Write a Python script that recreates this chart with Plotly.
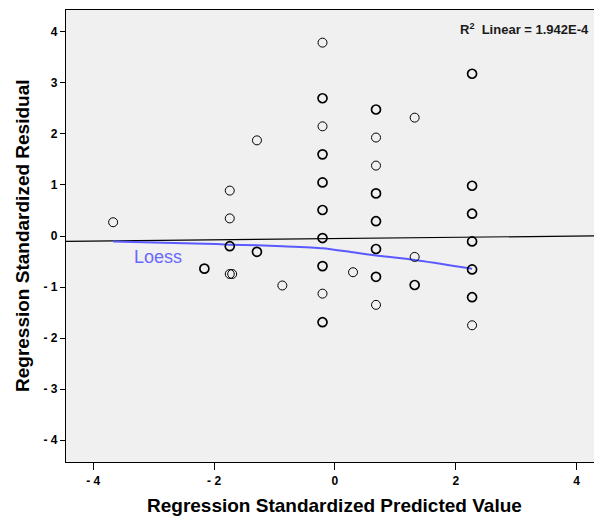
import plotly.graph_objects as go

# Scatter points (predicted value, residual, overlap count)
pred_x = [-3.67, -2.16,
          -1.74, -1.74, -1.74, -1.74, -1.70,
          -1.29, -1.29, -0.87,
          -0.205, -0.205, -0.205, -0.205, -0.205, -0.205, -0.205, -0.205, -0.205, -0.205,
          0.30,
          0.68, 0.68, 0.68, 0.68, 0.68, 0.68, 0.68, 0.68,
          1.32, 1.32, 1.32,
          2.27, 2.27, 2.27, 2.27, 2.27, 2.27, 2.27]
resid_y = [0.27, -0.64,
           0.89, 0.345, -0.20, -0.745, -0.745,
           1.875, -0.31, -0.97,
           3.79, 2.70, 2.15, 1.60, 1.05, 0.51, -0.04, -0.59, -1.13, -1.69,
           -0.71,
           2.48, 1.93, 1.38, 0.835, 0.29, -0.255, -0.80, -1.35,
           2.32, -0.41, -0.96,
           3.18, 0.985, 0.437, -0.106, -0.655, -1.20, -1.75]
counts = [1, 2,
          1, 1, 2, 1, 1,
          1, 2, 1,
          1, 2, 1, 2, 2, 2, 3, 2, 1, 2,
          1,
          2, 1, 1, 2, 2, 2, 2, 1,
          1, 1, 2,
          2, 2, 2, 2, 2, 2, 1]

# Loess curve
loess_x = [-3.67, -2.16, -1.74, -1.29, -0.87, -0.205, 0.30, 0.68, 1.32, 2.27]
loess_y = [-0.11, -0.15, -0.17, -0.18, -0.20, -0.24, -0.32, -0.38, -0.47, -0.64]

# Linear fit
fit_intercept = -0.05
fit_slope = 0.012
x_range = [-4.45, 4.42]
y_range = [-4.43, 4.43]

x_ticks = [-4, -2, 0, 2, 4]
x_ticktext = ["- 4", "- 2", "0", "2", "4"]
y_ticks = [4, 3, 2, 1, 0, -1, -2, -3, -4]
y_ticktext = ["4", "3", "2", "1", "0", "- 1", "- 2", "- 3", "- 4"]

FONT = "Liberation Sans, Arial, sans-serif"

fig = go.Figure()

fit_x = x_range
fit_y = [fit_intercept + fit_slope * v for v in fit_x]
fig.add_trace(go.Scatter(x=fit_x, y=fit_y, mode="lines",
                         line=dict(color="black", width=1.2),
                         showlegend=False, hoverinfo="skip"))

fig.add_trace(go.Scatter(x=loess_x, y=loess_y, mode="lines",
                         line=dict(color="#5a5aff", width=2, shape="spline", smoothing=0.6),
                         showlegend=False, hoverinfo="skip"))

fig.add_trace(go.Scatter(
    x=pred_x, y=resid_y, mode="markers",
    marker=dict(symbol="circle-open", size=9, color="black",
                line=dict(color="black", width=[1.0 if c == 1 else 1.7 for c in counts])),
    showlegend=False))

fig.add_annotation(x=-2.93, y=-0.41, xref="x", yref="y", text="Loess",
                   showarrow=False, font=dict(family=FONT, size=18, color="#6868ff"))

fig.add_annotation(x=1, y=1, xref="paper", yref="paper", xanchor="right", yanchor="top",
                   xshift=-11, yshift=-9,
                   text="<b>R<sup>2</sup>  Linear = 1.942E-4</b>", showarrow=False,
                   font=dict(family=FONT, size=13, color="#1a1a1a"))

fig.add_annotation(x=0.5, y=0, xref="paper", yref="paper", yanchor="middle",
                   yshift=-43, text="<b>Regression Standardized Predicted Value</b>",
                   showarrow=False, font=dict(family=FONT, size=19, color="black"))
fig.add_annotation(x=0, y=0.5, xref="paper", yref="paper", xanchor="center",
                   xshift=-44, textangle=-90,
                   text="<b>Regression Standardized Residual</b>",
                   showarrow=False, font=dict(family=FONT, size=19, color="black"))

# The page has an 8px body margin, so the figure is 8px smaller in each direction
fig.update_layout(
    width=594, height=508,
    margin=dict(l=58, r=0, t=2, b=54),
    paper_bgcolor="white",
    plot_bgcolor="#f0f0f0",
    font=dict(family=FONT, color="black"),
    xaxis=dict(range=x_range, tickvals=x_ticks, ticktext=x_ticktext,
               showgrid=False, zeroline=False, showline=True, linecolor="black",
               linewidth=1.3, mirror=True, ticks="outside", ticklen=7, tickwidth=1.3,
               tickcolor="black", tickfont=dict(family=FONT, size=12, weight="bold")),
    yaxis=dict(range=y_range, tickvals=y_ticks, ticktext=y_ticktext,
               showgrid=False, zeroline=False, showline=True, linecolor="black",
               linewidth=1.3, mirror=False, ticks="outside", ticklen=5, tickwidth=1.3,
               tickcolor="black", tickfont=dict(family=FONT, size=12, weight="bold")),
)

fig.write_html("out.html")
